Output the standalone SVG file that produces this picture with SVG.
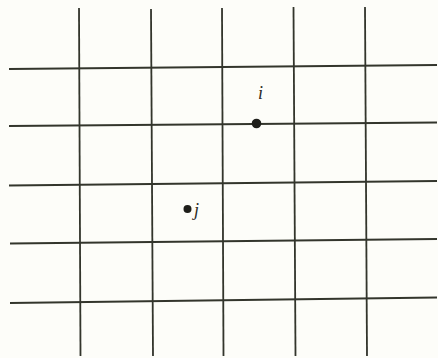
<svg xmlns="http://www.w3.org/2000/svg" width="438" height="358" viewBox="0 0 438 358">
<style>
.g{stroke:#33352c;stroke-width:1.8;fill:none;stroke-linecap:butt}
.lbl{font-family:"Liberation Serif","DejaVu Serif",serif;font-style:italic;font-size:18px;fill:#2a2a24}
.dot{fill:#1e1e1a}
</style>
<rect width="438" height="358" fill="#fdfdf9"/>
<g id="connectors">
<line class="g" x1="79" y1="8" x2="80.5" y2="356"/>
<line class="g" x1="151" y1="9" x2="153" y2="356"/>
<line class="g" x1="222" y1="8" x2="223.5" y2="356"/>
<line class="g" x1="293.5" y1="7" x2="295.5" y2="356"/>
<line class="g" x1="365" y1="7" x2="367" y2="356"/>
<line class="g" x1="9" y1="69" x2="437" y2="65"/>
<line class="g" x1="9" y1="126" x2="437" y2="122.5"/>
<line class="g" x1="9" y1="185.5" x2="437" y2="181"/>
<line class="g" x1="10" y1="243.5" x2="437" y2="239"/>
<line class="g" x1="10" y1="303" x2="437" y2="297.5"/>
</g>
<g id="node-i">
<circle class="dot" cx="256.5" cy="123.5" r="4.8"/>
<text class="lbl" x="258" y="99">i</text>
</g>
<g id="node-j">
<circle class="dot" cx="187.5" cy="209" r="4"/>
<text class="lbl" x="194" y="216">j</text>
</g>
</svg>
